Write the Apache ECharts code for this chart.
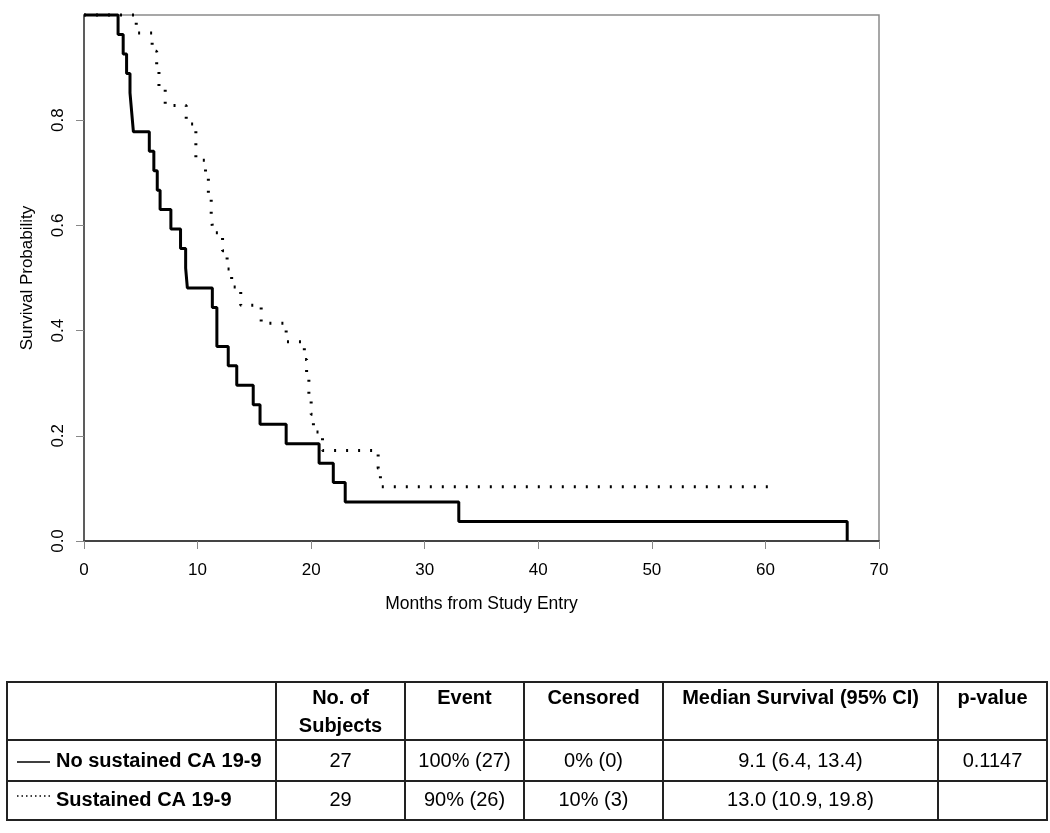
<!DOCTYPE html>
<html>
<head>
<meta charset="utf-8">
<script src="https://cdn.jsdelivr.net/npm/echarts@6/dist/echarts.min.js"></script>
<style>
  html, body { margin: 0; padding: 0; background: #fff; }
  #chart { width: 1050px; height: 833px; }
</style>
</head>
<body>
<div id="chart"></div>
<script>
// Kaplan-Meier steps (months, survival after the step)
const noSustainedMonths = [0, 3.0, 3.45, 3.75, 4.05, 4.2, 4.35, 5.75, 6.15, 6.45, 6.7, 7.65, 8.5, 8.95, 9.1, 11.3, 11.7, 12.7, 13.45, 14.9, 15.5, 17.8, 20.7, 21.95, 23.0, 33.0, 67.2];
const noSustainedSurv   = [1, 0.963, 0.926, 0.889, 0.852, 0.815, 0.778, 0.741, 0.704, 0.667, 0.630, 0.593, 0.556, 0.519, 0.481, 0.444, 0.370, 0.333, 0.296, 0.259, 0.222, 0.185, 0.148, 0.111, 0.074, 0.037, 0];

const sustainedMonths = [0, 4.6, 6.0, 6.4, 6.6, 7.15, 9.0, 9.85, 10.7, 10.95, 11.2, 11.35, 12.2, 12.6, 13.0, 13.8, 15.6, 17.8, 19.4, 19.6, 19.8, 20.0, 20.2, 21.0, 25.9, 26.1, 60.5];
const sustainedSurv   = [1, 0.966, 0.931, 0.897, 0.862, 0.828, 0.793, 0.724, 0.690, 0.655, 0.621, 0.586, 0.552, 0.517, 0.483, 0.448, 0.414, 0.379, 0.345, 0.310, 0.276, 0.241, 0.207, 0.172, 0.138, 0.103, 0.103];

// tick labels
const xTicks = [0, 10, 20, 30, 40, 50, 60, 70];
const yTicks = [0, 0.2, 0.4, 0.6, 0.8];

// table under the plot
const tableHeader = ['', 'No. of\nSubjects', 'Event', 'Censored', 'Median Survival (95% CI)', 'p-value'];
const tableRows = [
  ['No sustained CA 19-9', '27', '100% (27)', '0% (0)', '9.1 (6.4, 13.4)', '0.1147'],
  ['Sustained CA 19-9', '29', '90% (26)', '10% (3)', '13.0 (10.9, 19.8)', '']
];

const FONT = '"Liberation Sans", Arial, sans-serif';

function pairs(xs, ys) {
  return xs.map((x, i) => [x, ys[i]]);
}

// 表格
function buildTable() {
  const colX = [7, 276, 405, 524, 663, 938, 1047];
  const rowY = [682, 740, 781, 820];
  const rowMid = [761, 800];
  const els = [];
  const stroke = { stroke: '#222', lineWidth: 2 };

  els.push({ type: 'rect', shape: { x: colX[0], y: rowY[0], width: colX[6] - colX[0], height: rowY[3] - rowY[0] }, style: { fill: 'none', stroke: '#222', lineWidth: 2 } });
  for (let i = 1; i < colX.length - 1; i++) {
    els.push({ type: 'line', shape: { x1: colX[i], y1: rowY[0], x2: colX[i], y2: rowY[3] }, style: stroke });
  }
  for (let j = 1; j < rowY.length - 1; j++) {
    els.push({ type: 'line', shape: { x1: colX[0], y1: rowY[j], x2: colX[6], y2: rowY[j] }, style: stroke });
  }

  for (let i = 1; i < tableHeader.length; i++) {
    const two = tableHeader[i].indexOf('\n') >= 0;
    els.push({
      type: 'text', x: (colX[i] + colX[i + 1]) / 2, y: two ? 712 : 698,
      style: { text: tableHeader[i], font: 'bold 20px ' + FONT, fill: '#000', lineHeight: 28,
        align: 'center', verticalAlign: 'middle', textAlign: 'center', textVerticalAlign: 'middle' }
    });
  }

  tableRows.forEach((row, r) => {
    els.push({
      type: 'text', x: 56, y: rowMid[r],
      style: { text: row[0], font: 'bold 20px ' + FONT, fill: '#000',
        align: 'left', verticalAlign: 'middle', textAlign: 'left', textVerticalAlign: 'middle' }
    });
    for (let i = 1; i < row.length; i++) {
      els.push({
        type: 'text', x: (colX[i] + colX[i + 1]) / 2, y: rowMid[r],
        style: { text: row[i], font: '20px ' + FONT, fill: '#000',
          align: 'center', verticalAlign: 'middle', textAlign: 'center', textVerticalAlign: 'middle' }
      });
    }
  });

  // little line keys in front of the row labels
  els.push({ type: 'line', shape: { x1: 17, y1: 762, x2: 50, y2: 762 }, style: { stroke: '#000', lineWidth: 1.5 } });
  els.push({ type: 'line', shape: { x1: 17, y1: 796, x2: 52, y2: 796 }, style: { stroke: '#000', lineWidth: 1.5, lineDash: [1.5, 3] } });
  return els;
}

const chart = echarts.init(document.getElementById('chart'));
const option = {
  animation: false,
  backgroundColor: '#fff',
  grid: {
    left: 84, top: 15, width: 795, height: 526,
    show: true, borderColor: '#8a8a8a', borderWidth: 1.5
  },
  xAxis: {
    type: 'value', min: 0, max: 70, interval: 10,
    name: 'Months from Study Entry', nameLocation: 'middle', nameGap: 54,
    nameTextStyle: { fontFamily: FONT, fontSize: 17.5, color: '#000' },
    axisLine: { show: true, onZero: false, lineStyle: { color: '#444', width: 2 } },
    axisTick: { show: true, length: 8, lineStyle: { color: '#888' }, customValues: xTicks },
    axisLabel: { fontFamily: FONT, fontSize: 17, color: '#000', margin: 21, customValues: xTicks },
    splitLine: { show: false }
  },
  yAxis: {
    type: 'value', min: 0, max: 1, interval: 0.2,
    name: 'Survival Probability', nameLocation: 'middle', nameGap: 48, nameRotate: 90,
    nameTextStyle: { fontFamily: FONT, fontSize: 17, color: '#000' },
    axisLine: { show: true, onZero: false, lineStyle: { color: '#444', width: 1.5 } },
    axisTick: { show: true, length: 8, lineStyle: { color: '#888' }, customValues: yTicks },
    axisLabel: {
      fontFamily: FONT, fontSize: 17, color: '#000', rotate: 90, margin: 17,
      customValues: yTicks,
      formatter: v => v.toFixed(1)
    },
    splitLine: { show: false }
  },
  series: [
    {
      name: 'No sustained CA 19-9', type: 'line', step: 'end',
      data: pairs(noSustainedMonths, noSustainedSurv),
      showSymbol: false, clip: false,
      lineStyle: { color: '#000', width: 3 }
    },
    {
      name: 'Sustained CA 19-9', type: 'line', step: 'end',
      data: pairs(sustainedMonths, sustainedSurv),
      showSymbol: false, clip: false,
      lineStyle: { color: '#000', width: 3, type: [2, 10] }
    }
  ],
  graphic: buildTable()
};
chart.setOption(option);
</script>
</body>
</html>
